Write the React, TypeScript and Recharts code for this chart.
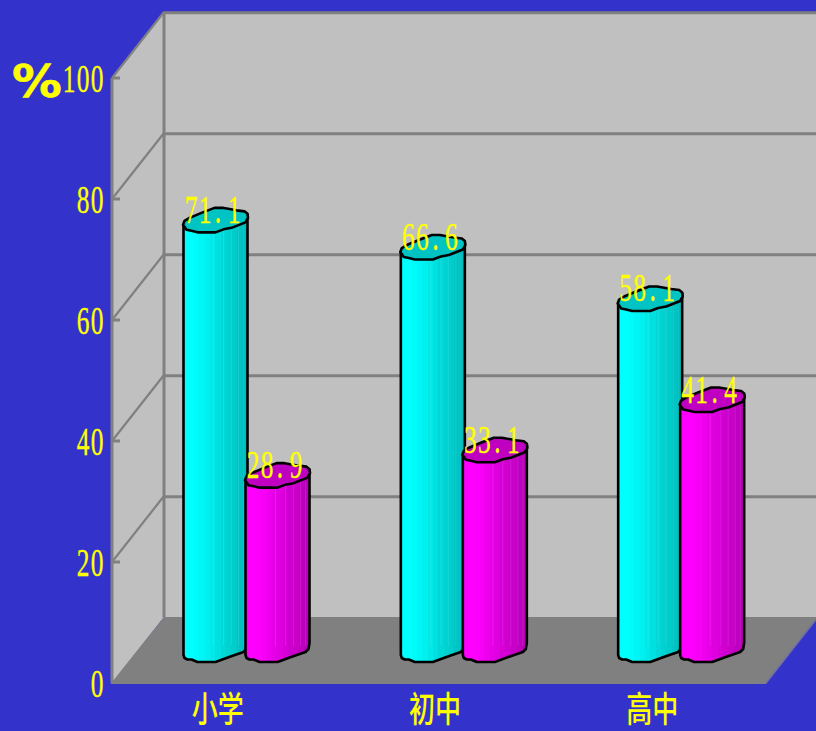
import React from "react";
import { BarChart, Bar, XAxis, YAxis, Customized, LabelList } from "recharts";

const categories = ["小学", "初中", "高中"];
const cyanValues = [71.1, 66.6, 58.1];
const magentaValues = [28.9, 33.1, 41.4];
const yTicks = [0, 20, 40, 60, 80, 100];

const rows = categories.map((name, i) => ({
  name,
  cyan: cyanValues[i],
  magenta: magentaValues[i],
}));

const WIDTH = 816;
const HEIGHT = 731;
const MARGIN = { top: 78, right: 50, bottom: 8, left: 52 };
const PLOT_LEFT = 112;
const PLOT_RIGHT = WIDTH - MARGIN.right;
const PLOT_TOP = 78;
const PLOT_BOTTOM = 683;
const DEPTH_X = 52;
const DEPTH_Y = 66;
// bars stand part way back on the floor
const BAR_DX = 24.5;
const BAR_DY = -21;

const YELLOW = "#ffff00";
const WALL = "#c0c0c0";
const LINE = "#808080";

const cyanFacets = ["#00ffff", "#00ffff", "#00fbfb", "#00f6f6", "#00f0f0", "#00e8e8", "#00e0e0", "#00d8d8", "#00d2d2", "#00cccc", "#00c4c4", "#00bcbc"];
const magentaFacets = ["#ff00ff", "#ff00ff", "#fb00fb", "#f600f6", "#ee00ee", "#e600e6", "#de00de", "#d600d6", "#ce00ce", "#c800c8", "#c000c0", "#b800b8"];
// pale seams between the cylinder's facets, as px from the bar's left edge
const facetSeams = [30, 40, 48, 55, 60];

// outline of the wobbly bar cap, relative to the front of the cap
const capShape: [number, number][] = [
  [-0.5, -7], [1, -11], [6, -14], [18, -19], [31, -24], [39, -24], [53, -21.5], [61, -20.5], [64, -18],
  [64.5, -14], [62, -9.5], [48, -4], [40, -2.5], [32, 0.5], [14, 0.5], [8, -1], [3, -2],
];
const footShape: [number, number][] = [
  [0, -7], [1, -4], [4, -2.5], [8, -2.5], [14, 0], [32, 0], [47, -5.5], [60, -10], [63, -13], [64, -19],
];

const y = (v: number) => PLOT_TOP + (1 - v / 100) * (PLOT_BOTTOM - PLOT_TOP);

// tall, narrow digits on a fixed pitch
function NarrowText({ text, x, baseline, anchor = "start", size = 41 }: any) {
  const pitch = 14;
  const sx = 0.62;
  const chars = String(text).split("");
  const startX = anchor === "end" ? x - pitch * chars.length + pitch / 2 : x;
  const xs = chars.map((c, i) => (i * pitch - (c === "." ? 1 : 0) + (i === 3 ? 1 : 0)) / sx);
  return (
    <text
      transform={`translate(${startX},${baseline}) scale(${sx},1)`}
      x={xs.join(" ")}
      y={0}
      textAnchor="middle"
      fontFamily="Liberation Serif"
      fontSize={size}
      fill={YELLOW}
      stroke={YELLOW}
      strokeWidth={0.35}
    >
      {text}
    </text>
  );
}

function facetStops(colors: string[]) {
  const n = colors.length;
  return colors.flatMap((c, i) => [
    <stop key={`${i}a`} offset={i / n} stopColor={c} />,
    <stop key={`${i}b`} offset={(i + 1) / n} stopColor={c} />,
  ]);
}

function Walls() {
  const gridValues = yTicks.slice(1);
  const frontRight = PLOT_RIGHT;
  return (
    <g>
      <defs>
        <linearGradient id="cyanBody" x1="0" x2="1" y1="0" y2="0">
          {facetStops(cyanFacets)}
        </linearGradient>
        <linearGradient id="magentaBody" x1="0" x2="1" y1="0" y2="0">
          {facetStops(magentaFacets)}
        </linearGradient>
      </defs>
      {/* side wall and back wall */}
      <polygon
        points={`${PLOT_LEFT},${y(100)} ${PLOT_LEFT + DEPTH_X},${y(100) - DEPTH_Y} ${PLOT_LEFT + DEPTH_X},${y(0) - DEPTH_Y} ${PLOT_LEFT},${y(0)}`}
        fill={WALL}
      />
      <rect
        x={PLOT_LEFT + DEPTH_X}
        y={y(100) - DEPTH_Y}
        width={WIDTH - PLOT_LEFT - DEPTH_X}
        height={y(0) - y(100)}
        fill={WALL}
      />
      {gridValues.map((v) => (
        <g key={v} stroke={LINE} fill="none">
          <line x1={PLOT_LEFT} y1={y(v)} x2={PLOT_LEFT + DEPTH_X} y2={y(v) - DEPTH_Y} strokeWidth={2.2} />
          <line x1={PLOT_LEFT + DEPTH_X} y1={y(v) - DEPTH_Y + 0.7} x2={WIDTH} y2={y(v) - DEPTH_Y + 0.7} strokeWidth={3} />
          <line x1={PLOT_LEFT} y1={y(v)} x2={PLOT_LEFT + 8} y2={y(v)} strokeWidth={3} />
        </g>
      ))}
      <line x1={PLOT_LEFT} y1={y(100)} x2={PLOT_LEFT} y2={y(0)} stroke={LINE} strokeWidth={3} />
      <line x1={PLOT_LEFT + DEPTH_X} y1={y(100) - DEPTH_Y} x2={PLOT_LEFT + DEPTH_X} y2={y(0) - DEPTH_Y} stroke={LINE} strokeWidth={3} />
      {/* floor */}
      <polygon
        points={`${PLOT_LEFT - 1.5},${y(0) + 1} ${frontRight},${y(0) + 1} ${frontRight + DEPTH_X},${y(0) - DEPTH_Y} ${PLOT_LEFT + DEPTH_X},${y(0) - DEPTH_Y}`}
        fill={LINE}
      />
      <line x1={frontRight} y1={y(0)} x2={frontRight + DEPTH_X} y2={y(0) - DEPTH_Y} stroke="#6f6fa8" strokeWidth={1.5} />
      <text
        transform="translate(12,96.5) scale(1.08,0.95)"
        fontFamily="DejaVu Sans"
        fontWeight="bold"
        fontSize={46}
        fill={YELLOW}
        stroke={YELLOW}
        strokeWidth={0.6}
      >
        %
      </text>
    </g>
  );
}

function CylinderBar(props: any) {
  const { x, y: top, height, gradient, capColor } = props;
  const left = x + BAR_DX;
  const front = top + BAR_DY;
  const foot = front + height;
  const cap = capShape.map(([dx, dy]) => `${left + dx},${front + dy}`).join(" ");
  const base = footShape.map(([dx, dy]) => `${left + dx},${foot + dy}`).join(" L");
  const body = `M${left},${front - 7} L${base} L${left + 64},${front - 17} Z`;
  return (
    <g>
      <path d={body} fill={`url(#${gradient})`} />
      {facetSeams.map((s) => (
        <line
          key={s}
          x1={left + s}
          x2={left + s}
          y1={front - 5}
          y2={foot - 16}
          stroke="#fff"
          strokeOpacity={0.1}
          strokeWidth={1}
        />
      ))}
      <path d={body} fill="none" stroke="#000" strokeWidth={2.6} strokeLinejoin="round" />
      <polygon points={cap} fill={capColor} stroke="#000" strokeWidth={2.6} strokeLinejoin="round" />
    </g>
  );
}

function ValueLabel({ x, y: top, value }: any) {
  return <NarrowText text={Number(value).toFixed(1)} x={x + BAR_DX + 7.5} baseline={top + BAR_DY - 9} />;
}

function ValueTick({ x, y: tickY, payload }: any) {
  return <NarrowText text={payload.value} x={x} baseline={tickY + 14} anchor="end" />;
}

function CategoryTick({ x, y: tickY, payload }: any) {
  return (
    <text
      transform={`translate(${x - 3},${tickY + 18}) scale(1.04,1.4)`}
      x={0}
      y={0}
      textAnchor="middle"
      fontFamily="Noto Sans CJK SC"
      fontWeight={500}
      fontSize={25}
      fill={YELLOW}
    >
      {payload.value}
    </text>
  );
}

export default function App() {
  return (
    <div
      style={{
        position: "absolute",
        left: 0,
        top: 0,
        width: WIDTH,
        height: HEIGHT,
        overflow: "hidden",
        background: "#3333cc",
      }}
    >
      <BarChart
        width={WIDTH}
        height={HEIGHT}
        data={rows}
        margin={MARGIN}
        barCategoryGap="0%"
        barGap={0}
        barSize={62}
      >
        <Customized component={Walls} />
        <XAxis
          dataKey="name"
          height={40}
          axisLine={false}
          tickLine={false}
          padding={{ left: 0, right: 2 }}
          tick={<CategoryTick />}
          tickMargin={15}
        />
        <YAxis
          width={60}
          domain={[0, 100]}
          ticks={yTicks}
          axisLine={false}
          tickLine={false}
          tick={<ValueTick />}
        />
        <Bar
          dataKey="cyan"
          isAnimationActive={false}
          shape={<CylinderBar gradient="cyanBody" capColor="#00c4c4" />}
        >
          <LabelList dataKey="cyan" content={<ValueLabel />} />
        </Bar>
        <Bar
          dataKey="magenta"
          isAnimationActive={false}
          shape={<CylinderBar gradient="magentaBody" capColor="#c000c0" />}
        >
          <LabelList dataKey="magenta" content={<ValueLabel />} />
        </Bar>
      </BarChart>
    </div>
  );
}
